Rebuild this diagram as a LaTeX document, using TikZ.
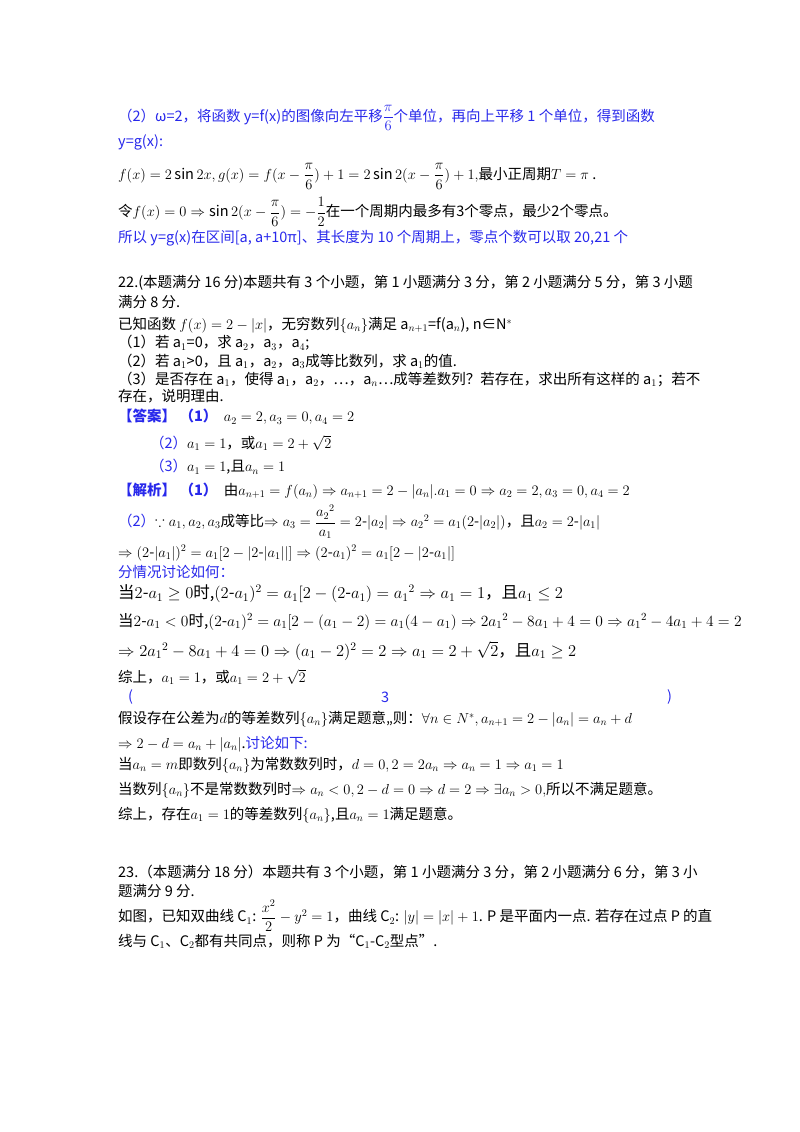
\documentclass[tikz,border=0pt]{standalone}
\usepackage{fix-cm}
\usepackage{amsmath,amssymb}
\usepackage{fontspec}
\setmainfont{Noto Sans CJK SC}
\definecolor{bl}{RGB}{40,40,235}
\tikzset{ln/.style={anchor=west,inner sep=0pt,font=\fontsize{14.5}{16}\selectfont},
 big/.style={anchor=west,inner sep=0pt,font=\fontsize{16.5}{18}\selectfont},
 blu/.style={text=bl}}
\begin{document}
\begin{tikzpicture}[x=1pt,y=-1pt]
\useasboundingbox (0,0) rectangle (800,1132);
\node[ln,blu] (l1) at (118,118) {（2）ω=2，将函数 y=f(x)的图像向左平移$\dfrac{\pi}{6}$个单位，再向上平移 1 个单位，得到函数};
\node[ln,blu] (l2) at (118,142) {y=g(x):};
\node[ln] (l3) at (118,176) {$f(x)=2\sin 2x, g(x)=f(x-\dfrac{\pi}{6})+1=2\sin 2(x-\dfrac{\pi}{6})+1,$最小正周期$T=\pi$ .};
\node[ln] (l4) at (118,212) {令$f(x)=0\Rightarrow \sin 2(x-\dfrac{\pi}{6})=-\dfrac{1}{2}$在一个周期内最多有3个零点，最少2个零点。};
\node[ln,blu] (l5) at (118,238) {所以 y=g(x)在区间[a, a+10π]、其长度为 10 个周期上，零点个数可以取 20,21 个};
\node[ln] (l6) at (118,283) {22.(本题满分 16 分)本题共有 3 个小题，第 1 小题满分 3 分，第 2 小题满分 5 分，第 3 小题};
\node[ln] (l7) at (118,302) {满分 8 分.};
\node[ln] (l8) at (118,325) {已知函数 $f(x)=2-|x|$，无穷数列$\{a_n\}$满足 a$_{n+1}$=f(a$_n$), n∈N$^*$};
\node[ln] (l9) at (118,343) {（1）若 a$_1$=0，求 a$_2$，a$_3$，a$_4$;};
\node[ln] (l10) at (118,361) {（2）若 a$_1$>0，且 a$_1$，a$_2$，a$_3$成等比数列，求 a$_1$的值.};
\node[ln] (l11) at (118,379) {（3）是否存在 a$_1$，使得 a$_1$，a$_2$，…，a$_n$…成等差数列？若存在，求出所有这样的 a$_1$；若不};
\node[ln] (l12) at (118,396) {存在，说明理由.};
\node[ln] (l13) at (118,417) {\textcolor{bl}{\bfseries【答案】\ （1）}\ \ $a_2=2,a_3=0,a_4=2$};
\node[ln] (l14) at (150,443) {\textcolor{bl}{（2）}$a_1=1$，或$a_1=2+\sqrt{2}$};
\node[ln] (l15) at (150,467) {\textcolor{bl}{（3）}$a_1=1$,且$a_n=1$};
\node[ln] (l16) at (118,491) {\textcolor{bl}{\bfseries【解析】\ （1）}\ \ 由$a_{n+1}=f(a_n)\Rightarrow a_{n+1}=2-|a_n|.a_1=0\Rightarrow a_2=2,a_3=0,a_4=2$};
\node[ln] (l17) at (118,522) {\textcolor{bl}{（2）}$\because a_1,a_2,a_3$成等比$\Rightarrow a_3=\dfrac{a_2{}^2}{a_1}=2\text{-}|a_2|\Rightarrow a_2{}^2=a_1(2\text{-}|a_2|)$，且$a_2=2\text{-}|a_1|$};
\node[ln] (l18) at (118,553) {$\Rightarrow(2\text{-}|a_1|)^2=a_1[2-|2\text{-}|a_1||]\Rightarrow(2\text{-}a_1)^2=a_1[2-|2\text{-}a_1|]$};
\node[ln,blu] (l19) at (118,572) {分情况讨论如何：};
\node[big] (l20) at (118,594) {当$2\text{-}a_1\ge 0$时,$(2\text{-}a_1)^2=a_1[2-(2\text{-}a_1)=a_1{}^2\Rightarrow a_1=1$，且$a_1\le 2$};
\node[big,font=\fontsize{15.5}{17}\selectfont] (l21) at (118,622) {当$2\text{-}a_1<0$时,$(2\text{-}a_1)^2=a_1[2-(a_1-2)=a_1(4-a_1)\Rightarrow 2a_1{}^2-8a_1+4=0\Rightarrow a_1{}^2-4a_1+4=2$};
\node[big] (l22) at (118,651) {$\Rightarrow 2a_1{}^2-8a_1+4=0\Rightarrow(a_1-2)^2=2\Rightarrow a_1=2+\sqrt{2}$，且$a_1\ge 2$};
\node[ln] (l23) at (118,677) {综上，$a_1=1$，或$a_1=2+\sqrt{2}$};
\node[ln,blu] (l24a) at (128,697) {(};
\node[ln,blu] (l24b) at (381,697) {3};
\node[ln,blu] (l24c) at (667,697) {)};
\node[ln] (l25) at (118,719) {假设存在公差为$d$的等差数列$\{a_n\}$满足题意,,则：$\forall n\in N^*,a_{n+1}=2-|a_n|=a_n+d$};
\node[ln] (l26) at (118,744) {$\Rightarrow 2-d=a_n+|a_n|$.\textcolor{bl}{讨论如下:}};
\node[ln] (l27) at (118,765) {当$a_n=m$即数列$\{a_n\}$为常数数列时，$d=0,2=2a_n\Rightarrow a_n=1\Rightarrow a_1=1$};
\node[ln] (l28) at (118,790) {当数列$\{a_n\}$不是常数数列时$\Rightarrow a_n<0,2-d=0\Rightarrow d=2\Rightarrow\exists a_n>0,$所以不满足题意。};
\node[ln] (l29) at (118,815) {综上，存在$a_1=1$的等差数列$\{a_n\}$,且$a_n=1$满足题意。};
\node[ln] (l30) at (118,872) {23.（本题满分 18 分）本题共有 3 个小题，第 1 小题满分 3 分，第 2 小题满分 6 分，第 3 小};
\node[ln] (l31) at (118,891) {题满分 9 分.};
\node[ln] (l32) at (118,916) {如图，已知双曲线 C$_1$: $\dfrac{x^2}{2}-y^2=1$，曲线 C$_2$: $|y|=|x|+1$. P 是平面内一点. 若存在过点 P 的直};
\node[ln] (l33) at (118,941) {线与 C$_1$、C$_2$都有共同点，则称 P 为“C$_1$-C$_2$型点”.};
\end{tikzpicture}
\end{document}
